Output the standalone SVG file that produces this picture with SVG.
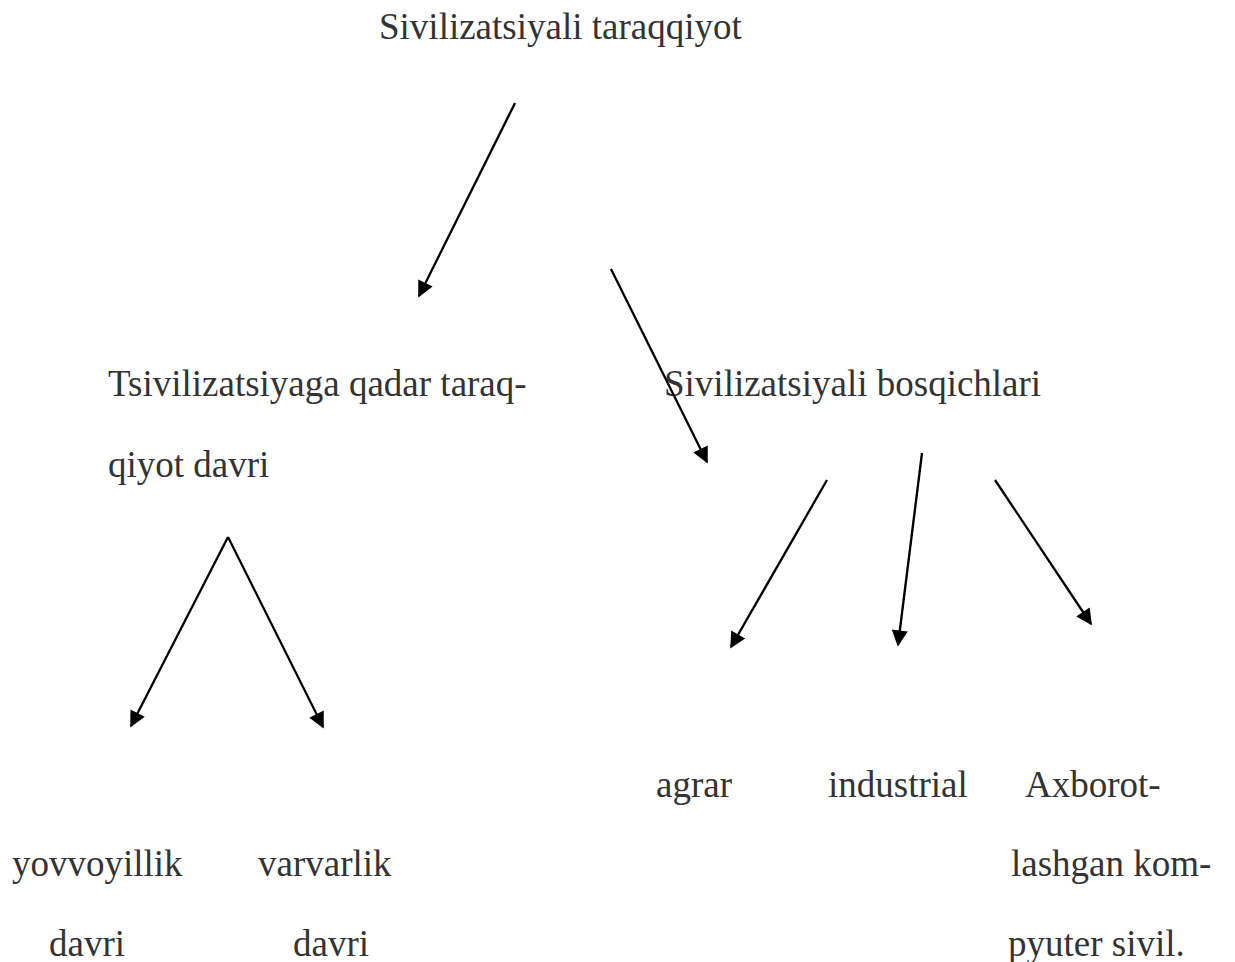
<svg xmlns="http://www.w3.org/2000/svg" width="1235" height="962" viewBox="0 0 1235 962">
<style>
text{font-family:"Liberation Serif","Times New Roman",serif;font-size:37px;fill:#333}
.c line{stroke:#000;stroke-width:2.3;marker-end:url(#ah)}
</style>
<defs>
<marker id="ah" viewBox="0 0 10 10" refX="9" refY="5" markerWidth="8" markerHeight="7" markerUnits="strokeWidth" orient="auto">
<path d="M0,0L10,5L0,10z" fill="#000"/>
</marker>
</defs>
<rect width="1235" height="962" fill="#fff"/>
<g id="n-root"><text x="379" y="39">Sivilizatsiyali taraqqiyot</text></g>
<g id="n-pre"><text x="108" y="396">Tsivilizatsiyaga qadar taraq-</text><text x="108" y="477">qiyot davri</text></g>
<g id="n-civ"><text x="664" y="396">Sivilizatsiyali bosqichlari</text></g>
<g id="n-agrar"><text x="656" y="797">agrar</text></g>
<g id="n-ind"><text x="828" y="797">industrial</text></g>
<g id="n-axb"><text x="1025" y="797">Axborot-</text><text x="1011" y="876">lashgan kom-</text><text x="1008" y="956">pyuter sivil.</text></g>
<g id="n-yov"><text x="12" y="876">yovvoyillik</text><text x="49" y="956">davri</text></g>
<g id="n-var"><text x="258" y="876">varvarlik</text><text x="293" y="956">davri</text></g>
<g id="connectors" class="c">
<line x1="515" y1="103" x2="419" y2="296"/>
<line x1="611" y1="269" x2="707" y2="462"/>
<line x1="228" y1="537" x2="131" y2="726"/>
<line x1="228" y1="537" x2="323" y2="727"/>
<line x1="827" y1="480" x2="731" y2="647"/>
<line x1="922" y1="453" x2="898" y2="645"/>
<line x1="995" y1="480" x2="1091" y2="624"/>
</g>
</svg>
